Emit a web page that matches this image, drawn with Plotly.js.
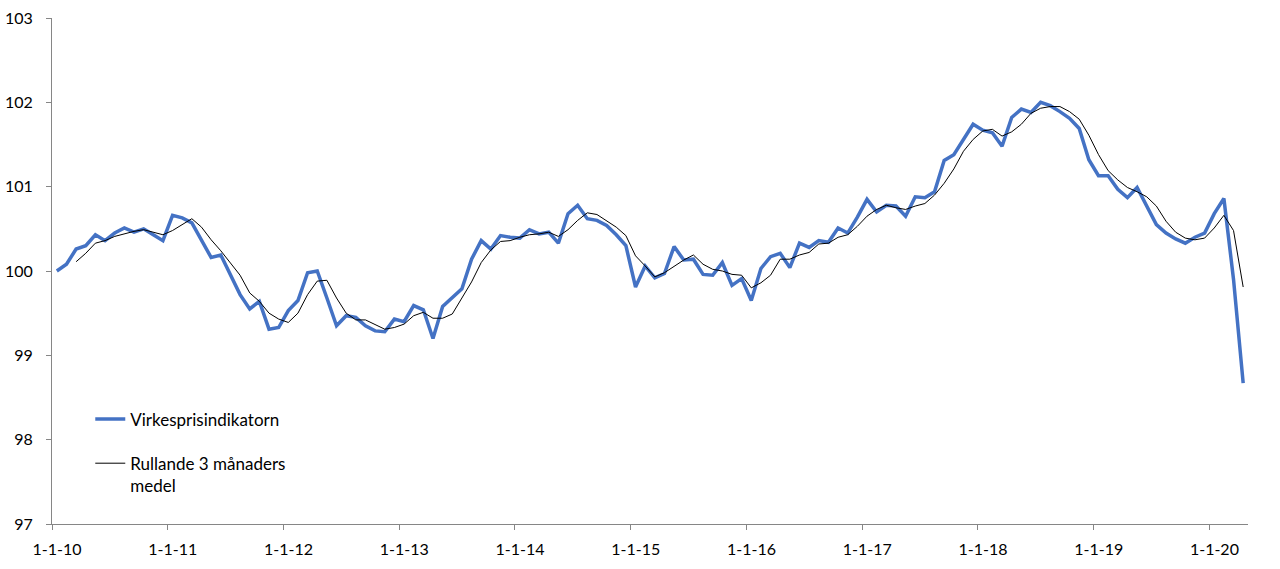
<!DOCTYPE html>
<html>
<head>
<meta charset="utf-8">
<script src="https://cdn.plot.ly/plotly-3.0.1.min.js"></script>
<style>html,body{margin:0;padding:0;background:#fff;}#chart{width:1280px;height:569px;}</style>
</head>
<body>
<div id="chart"></div>
<script>
// Months from Jan 2010 to Apr 2020 (index 0 = Jan 2010)
const startYear = 2010;
const nMonths = 124;
const monthIndex = Array.from({length: nMonths}, (_, i) => i);

const tickLabels = ['1-1-10','1-1-11','1-1-12','1-1-13','1-1-14','1-1-15','1-1-16','1-1-17','1-1-18','1-1-19','1-1-20'];
const tickPositions = tickLabels.map((_, k) => k * 12 - 0.5);

const seriesNames = ['Virkesprisindikatorn', 'Rullande 3 månaders<br>medel'];

const virkespris = [
  100.00,100.08,100.26,100.30,100.43,100.36,100.45,100.51,100.46,100.50,100.43,100.36,
  100.66,100.63,100.57,100.37,100.16,100.19,99.95,99.72,99.55,99.64,99.31,99.33,
  99.53,99.65,99.98,100.00,99.68,99.35,99.47,99.45,99.35,99.29,99.28,99.43,
  99.40,99.59,99.54,99.20,99.58,99.68,99.79,100.14,100.36,100.26,100.42,100.40,
  100.39,100.49,100.44,100.46,100.33,100.68,100.78,100.62,100.60,100.54,100.43,100.30,
  99.81,100.06,99.92,99.97,100.29,100.13,100.14,99.96,99.95,100.10,99.83,99.91,
  99.65,100.03,100.17,100.21,100.04,100.33,100.28,100.36,100.34,100.51,100.45,100.64,
  100.85,100.70,100.78,100.77,100.65,100.88,100.87,100.94,101.31,101.38,101.56,101.74,
  101.67,101.64,101.48,101.82,101.92,101.88,102.00,101.96,101.89,101.81,101.69,101.32,
  101.13,101.13,100.97,100.87,100.99,100.77,100.55,100.45,100.38,100.33,100.40,100.45,
  100.68,100.86,99.90,98.67
];

const rullande = [
  null,null,100.11,100.21,100.33,100.36,100.41,100.44,100.47,100.49,100.46,100.43,
  100.48,100.55,100.62,100.52,100.37,100.24,100.10,99.95,99.74,99.64,99.50,99.43,
  99.39,99.50,99.72,99.88,99.89,99.68,99.50,99.42,99.42,99.36,99.31,99.33,
  99.37,99.47,99.51,99.44,99.44,99.49,99.68,99.87,100.10,100.25,100.35,100.36,
  100.40,100.43,100.44,100.46,100.41,100.49,100.60,100.69,100.67,100.59,100.52,100.42,
  100.18,100.06,99.93,99.98,100.06,100.13,100.19,100.08,100.02,100.00,99.96,99.95,
  99.80,99.86,99.95,100.14,100.14,100.19,100.22,100.32,100.33,100.40,100.43,100.53,
  100.65,100.73,100.78,100.75,100.73,100.77,100.80,100.90,101.04,101.21,101.42,101.56,
  101.66,101.68,101.60,101.65,101.74,101.87,101.93,101.95,101.95,101.89,101.80,101.61,
  101.38,101.19,101.08,100.99,100.94,100.88,100.77,100.59,100.46,100.39,100.37,100.39,
  100.51,100.66,100.48,99.81
];

const axisColor = '#868686';
const fontFamily = 'Lato, "Open Sans", sans-serif';

const traces = [
  {
    x: monthIndex, y: virkespris, name: seriesNames[0], type: 'scatter', mode: 'lines',
    line: {color: '#4472C4', width: 3.5}, legendgroup: 'a', hoverinfo: 'y'
  },
  {
    x: monthIndex, y: rullande, name: seriesNames[1], type: 'scatter', mode: 'lines',
    line: {color: '#000000', width: 1}, legendgroup: 'b', hoverinfo: 'y', connectgaps: false
  }
];

const layout = {
  width: 1280, height: 569,
  margin: {l: 52, r: 32, t: 18, b: 45, pad: 0},
  paper_bgcolor: '#ffffff', plot_bgcolor: '#ffffff',
  font: {family: fontFamily, size: 16, color: '#000000'},
  showlegend: true,
  legend: {
    x: 0.032, y: 0.242, xanchor: 'left', yanchor: 'top',
    bgcolor: 'rgba(0,0,0,0)', borderwidth: 0,
    traceorder: 'grouped', tracegroupgap: 19, valign: 'top',
    itemwidth: 30,
    font: {family: fontFamily, size: 17, color: '#000000'}
  },
  xaxis: {
    range: [-0.5, nMonths - 0.5],
    tickmode: 'array', tickvals: tickPositions, ticktext: tickLabels,
    ticklabelshift: 5, ticklabelstandoff: 6,
    ticks: 'outside', ticklen: 5, tickwidth: 1, tickcolor: axisColor,
    showline: true, linecolor: axisColor, linewidth: 1,
    showgrid: false, zeroline: false,
    tickfont: {family: fontFamily, size: 16, color: '#000000'},
    fixedrange: true
  },
  yaxis: {
    range: [97, 103], tickmode: 'linear', tick0: 97, dtick: 1,
    ticks: 'outside', ticklen: 5, tickwidth: 1, tickcolor: axisColor,
    ticklabelstandoff: 10,
    showline: true, linecolor: axisColor, linewidth: 1,
    showgrid: false, zeroline: false,
    tickfont: {family: fontFamily, size: 16, color: '#000000'},
    fixedrange: true
  }
};

Plotly.newPlot('chart', traces, layout, {staticPlot: true, displayModeBar: false});
</script>
</body>
</html>
